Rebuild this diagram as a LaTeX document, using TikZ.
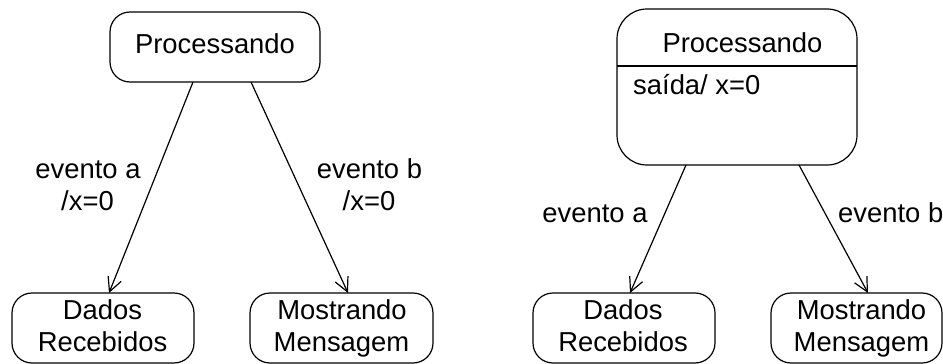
\documentclass[tikz,border=0pt]{standalone}
\usepackage{fontspec}
\setmainfont{Liberation Sans}
\usetikzlibrary{arrows.meta}
\tikzset{
  statebox/.style={draw, line width=1.2pt, rounded corners=20pt, inner sep=0pt, outer sep=0pt},
  txt/.style={anchor=base, inner sep=0pt, font=\fontsize{27.4}{32}\selectfont},
  trans/.style={line width=1.2pt, -{Straight Barb[length=14pt,width=14pt,line width=1.2pt]}}
}
\begin{document}
\begin{tikzpicture}[x=1pt,y=-1pt]
\useasboundingbox (0,0) rectangle (943,364);
% left diagram
\node[statebox, minimum width=210pt, minimum height=70pt] (procL) at (215,47) {};
\node[statebox, minimum width=182pt, minimum height=70pt] (datL) at (103,328) {};
\node[statebox, minimum width=183pt, minimum height=70pt] (mosL) at (341.5,328) {};
\node[txt] (tprocL) at (215,53) {Processando};
\node[txt] (tdat1L) at (102.5,319) {Dados};
\node[txt] (tdat2L) at (102.5,351) {Recebidos};
\node[txt] (tmos1L) at (342,319) {Mostrando};
\node[txt] (tmos2L) at (341.5,351) {Mensagem};
\draw[trans] ([xshift=-22pt]procL.south) -- ([xshift=6pt]datL.north);
\draw[trans] ([xshift=36pt]procL.south) -- ([xshift=6.5pt]mosL.north);
\node[txt] (ea1L) at (88,178) {evento a};
\node[txt] (ea2L) at (87.5,210) {/x=0};
\node[txt] (eb1L) at (369.5,178) {evento b};
\node[txt] (eb2L) at (369,210) {/x=0};
% right diagram
\node[statebox, rounded corners=30pt, minimum width=240pt, minimum height=156pt] (procR) at (737,87) {};
\draw[line width=1.2pt] ([yshift=21pt]procR.west) -- ([yshift=21pt]procR.east);
\node[txt] (tprocR) at (742.5,52) {Processando};
\node[txt, anchor=base west] (saiR) at (633,94) {saída/ x=0};
\node[statebox, minimum width=182pt, minimum height=70pt] (datR) at (624,328) {};
\node[statebox, minimum width=171pt, minimum height=70pt] (mosR) at (856.5,328) {};
\node[txt] (tdat1R) at (623,319) {Dados};
\node[txt] (tdat2R) at (623,351) {Recebidos};
\node[txt] (tmos1R) at (861.5,319) {Mostrando};
\node[txt] (tmos2R) at (861.5,351) {Mensagem};
\draw[trans] ([xshift=-51pt]procR.south) -- ([xshift=6pt]datR.north);
\draw[trans] ([xshift=62pt]procR.south) -- ([xshift=11.5pt]mosR.north);
\node[txt] (eaR) at (595,222) {evento a};
\node[txt, anchor=base west] (ebR) at (838,222) {evento b};
\end{tikzpicture}
\end{document}
